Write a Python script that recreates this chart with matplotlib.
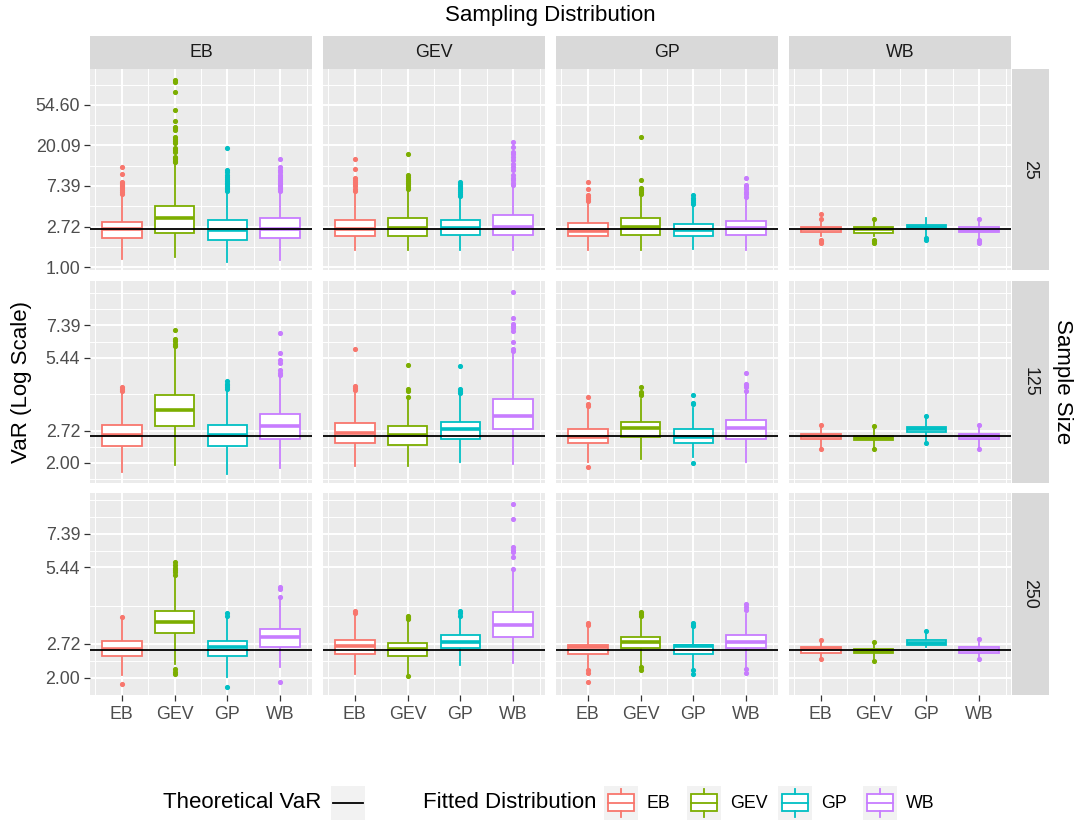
import numpy as np
import matplotlib.pyplot as plt
from matplotlib.patches import Rectangle
from matplotlib.ticker import FixedLocator, NullFormatter

plt.rcParams['font.family'] = ['Liberation Sans', 'DejaVu Sans']

fitted = ['EB', 'GEV', 'GP', 'WB']
sampling = ['EB', 'GEV', 'GP', 'WB']
sample_sizes = ['25', '125', '250']
colors = ['#F8766D', '#7CAE00', '#00BFC4', '#C77CFF']
theoretical_var = 2.58

# box statistics: one inner list per sampling distribution (panel column),
# each with the four fitted distributions EB, GEV, GP, WB
n25_lo = [[1.22, 1.29, 1.14, 1.19], [1.51, 1.51, 1.51, 1.51],
          [1.51, 1.51, 1.56, 1.51], [2.13, 2.13, 2.13, 2.04]]
n25_q1 = [[2.03, 2.30, 1.95, 2.03], [2.13, 2.13, 2.22, 2.22],
          [2.13, 2.22, 2.13, 2.22], [2.37, 2.34, 2.61, 2.37]]
n25_med = [[2.54, 3.33, 2.51, 2.54], [2.55, 2.61, 2.61, 2.72],
           [2.46, 2.72, 2.51, 2.61], [2.55, 2.55, 2.72, 2.51]]
n25_q3 = [[3.06, 4.51, 3.19, 3.33], [3.21, 3.39, 3.21, 3.63],
          [3.00, 3.39, 2.91, 3.13], [2.68, 2.68, 2.79, 2.68]]
n25_hi = [[5.90, 12.9, 6.20, 6.20], [6.19, 6.44, 5.47, 7.28],
          [4.84, 5.79, 4.45, 5.25], [3.20, 3.10, 3.34, 3.20]]
n25_out = [
    [[6.1, 6.4, 6.7, 7.0, 7.3, 7.6, 7.9, 8.2, 9.9, 11.9],
     [13.3, 13.8, 14.3, 14.8, 15.2, 17.2, 18.0, 18.9, 21.3, 22.5, 23.7, 25.0,
      29.4, 31.0, 32.0, 37.0, 48.0, 75.6, 97.0, 100.0],
     [6.5, 6.8, 7.1, 7.4, 7.7, 8.0, 8.4, 8.8, 9.3, 9.8, 10.4, 11.0, 18.7],
     [6.5, 6.8, 7.1, 7.4, 7.7, 8.0, 8.4, 8.8, 9.3, 9.8, 10.4, 11.0, 11.9, 14.4]],
    [[6.5, 6.9, 7.3, 7.7, 8.2, 8.6, 9.0, 11.2, 14.5],
     [6.8, 7.2, 7.6, 8.0, 8.4, 8.8, 9.2, 9.7, 16.3],
     [5.8, 6.1, 6.4, 6.7, 7.0, 7.4, 7.8, 8.2],
     [7.6, 8.0, 8.5, 9.0, 9.7, 11.0, 11.8, 12.7, 14.0, 15.2, 16.2, 17.2, 19.2, 21.7]],
    [[5.1, 5.4, 5.7, 5.9, 6.8, 8.2],
     [6.1, 6.4, 6.7, 7.0, 8.6, 24.6],
     [4.7, 5.0, 5.2, 5.5, 5.9],
     [5.6, 6.0, 6.4, 6.8, 7.2, 7.6, 8.9]],
    [[3.30, 3.72, 1.96, 1.90, 1.83],
     [3.26, 1.96, 1.90, 1.83],
     [2.04, 1.96],
     [3.26, 1.96, 1.90, 1.83]],
]

n125_lo = [[1.83, 1.96, 1.80, 1.91], [1.94, 1.94, 2.02, 1.98],
           [2.02, 2.08, 2.11, 2.02], [2.30, 2.30, 2.43, 2.30]]
n125_q1 = [[2.34, 2.83, 2.34, 2.51], [2.41, 2.37, 2.51, 2.75],
           [2.41, 2.55, 2.41, 2.51], [2.51, 2.49, 2.68, 2.51]]
n125_med = [[2.61, 3.31, 2.61, 2.85], [2.66, 2.61, 2.76, 3.11],
            [2.57, 2.78, 2.57, 2.78], [2.58, 2.54, 2.75, 2.58]]
n125_q3 = [[2.88, 3.80, 2.88, 3.19], [2.92, 2.83, 2.96, 3.68],
           [2.75, 2.96, 2.75, 3.01], [2.64, 2.59, 2.81, 2.64]]
n125_hi = [[3.86, 6.01, 3.98, 4.52], [3.92, 3.74, 3.80, 5.64],
           [3.39, 3.68, 3.36, 3.86], [2.85, 2.83, 3.09, 2.85]]
n125_out = [
    [[3.95, 4.02, 4.11],
     [6.1, 6.2, 6.4, 6.5, 7.09],
     [4.05, 4.12, 4.18, 4.25, 4.34],
     [4.6, 4.7, 4.82, 5.18, 5.3, 5.7, 6.89]],
    [[4.0, 4.08, 4.17, 5.88],
     [3.76, 3.98, 4.02, 5.08],
     [3.9, 3.96, 4.02, 5.02],
     [5.77, 5.92, 6.30, 7.04, 7.2, 7.32, 7.51, 7.92, 10.2]],
    [[3.45, 3.51, 3.73, 1.92],
     [3.80, 3.86, 3.92, 4.11],
     [3.51, 3.54, 3.80, 2.00],
     [3.98, 4.11, 4.20, 4.24, 4.71]],
    [[2.87, 2.28], [2.85, 2.28], [3.12, 2.41], [2.87, 2.28]],
]

n250_lo = [[2.05, 2.27, 2.02, 2.20], [2.08, 2.05, 2.24, 2.29],
           [2.17, 2.24, 2.17, 2.20], [2.39, 2.36, 2.64, 2.40]]
n250_q1 = [[2.43, 3.01, 2.43, 2.64], [2.49, 2.45, 2.63, 2.91],
           [2.49, 2.63, 2.49, 2.63], [2.51, 2.51, 2.70, 2.51]]
n250_med = [[2.60, 3.31, 2.64, 2.89], [2.66, 2.60, 2.76, 3.24],
            [2.64, 2.76, 2.66, 2.76], [2.60, 2.55, 2.75, 2.58]]
n250_q3 = [[2.79, 3.68, 2.79, 3.12], [2.83, 2.75, 2.95, 3.63],
           [2.70, 2.91, 2.70, 2.95], [2.64, 2.60, 2.81, 2.64]]
n250_hi = [[3.40, 4.95, 3.45, 4.10], [3.52, 3.36, 3.40, 5.30],
           [3.17, 3.42, 3.12, 3.58], [2.81, 2.76, 3.03, 2.83]]
n250_out = [
    [[3.48, 1.90],
     [5.1, 5.2, 5.30, 5.4, 5.54, 5.71, 2.17, 2.12, 2.08],
     [3.52, 3.60, 1.85],
     [4.15, 4.49, 4.55, 1.92]],
    [[3.59, 3.66],
     [3.40, 3.44, 3.48, 3.52, 2.03],
     [3.52, 3.59, 3.66],
     [5.35, 5.98, 6.25, 6.4, 6.55, 8.47, 9.70]],
    [[3.22, 3.28, 2.14, 2.09, 1.92],
     [3.52, 3.58, 3.63, 2.20, 2.15],
     [3.20, 3.24, 3.28, 2.14, 2.08],
     [3.70, 3.80, 3.92, 2.17, 2.10]],
    [[2.83, 2.37], [2.78, 2.34], [3.05], [2.85, 2.38]],
]

row_stats = {
    '25': (n25_lo, n25_q1, n25_med, n25_q3, n25_hi, n25_out),
    '125': (n125_lo, n125_q1, n125_med, n125_q3, n125_hi, n125_out),
    '250': (n250_lo, n250_q1, n250_med, n250_q3, n250_hi, n250_out),
}
row_ticks = {
    '25': [1.00, 2.72, 7.39, 20.09, 54.60],
    '125': [2.00, 2.72, 5.44, 7.39],
    '250': [2.00, 2.72, 5.44, 7.39],
}
row_limits = {'25': (0.924, 132.2), '125': (1.659, 11.24), '250': (1.72, 10.65)}

# layout in pixels
W, H = 1078, 821
col_x = [90, 323, 556, 789]
row_y = [69, 281.3, 493.3]
pw, ph = 222, 201.3
axis_grey = '#4D4D4D'
small = 12.8
big = 16


def fig_rect(x, y, w, h):
    return [x / W, 1 - (y + h) / H, w / W, h / H]


def minor_breaks(ticks):
    lg = np.log(ticks)
    mids = (lg[:-1] + lg[1:]) / 2
    step = lg[-1] - mids[-1]
    extra = [lg[0] - (mids[0] - lg[0]), lg[-1] + step, lg[-1] + 2 * step]
    return np.exp(np.sort(np.concatenate([mids, extra])))


fig = plt.figure(figsize=(W / 100, H / 100), dpi=100)

for r, n in enumerate(sample_sizes):
    lo, q1, med, q3, hi, out = row_stats[n]
    for c, s in enumerate(sampling):
        ax = fig.add_axes(fig_rect(col_x[c], row_y[r], pw, ph))
        ax.set_facecolor('#EBEBEB')
        stats = [dict(whislo=lo[c][k], q1=q1[c][k], med=med[c][k], q3=q3[c][k],
                      whishi=hi[c][k], fliers=out[c][k]) for k in range(4)]
        b = ax.bxp(stats, positions=[1, 2, 3, 4], widths=0.75, patch_artist=True,
                   showcaps=False, manage_ticks=False)
        for k, col in enumerate(colors):
            b['boxes'][k].set(facecolor='white', edgecolor=col, linewidth=1.3, zorder=3)
            b['medians'][k].set(color=col, linewidth=2.6, zorder=3.5)
            b['whiskers'][2 * k].set(color=col, linewidth=1.3, zorder=2.5)
            b['whiskers'][2 * k + 1].set(color=col, linewidth=1.3, zorder=2.5)
            b['fliers'][k].set(marker='o', markerfacecolor=col, markeredgecolor=col,
                               markersize=2.7, zorder=2.5)
        ax.axhline(theoretical_var, color='black', linewidth=1.3, zorder=5)

        ax.set_yscale('log')
        ax.set_ylim(*row_limits[n])
        ax.set_xlim(0.4, 4.6)
        ticks = row_ticks[n]
        ax.yaxis.set_major_locator(FixedLocator(ticks))
        ax.yaxis.set_minor_locator(FixedLocator(minor_breaks(ticks)))
        ax.yaxis.set_minor_formatter(NullFormatter())
        ax.set_yticklabels(['%.2f' % t for t in ticks])
        ax.set_xticks([1, 2, 3, 4])
        ax.set_xticks([0.5, 1.5, 2.5, 3.5, 4.5], minor=True)
        ax.set_xticklabels(fitted)
        ax.set_axisbelow(True)
        ax.grid(which='major', color='white', linewidth=1.4)
        ax.grid(which='minor', color='white', linewidth=0.7)
        for sp in ax.spines.values():
            sp.set_visible(False)
        ax.tick_params(which='minor', length=0)
        ax.tick_params(which='major', length=4.5, width=0.9, color='#333333',
                       labelsize=small, labelcolor=axis_grey, pad=2.5)
        ax.tick_params(axis='x', pad=3.5)
        if c > 0:
            ax.tick_params(axis='y', length=0, labelleft=False)
        if r < len(sample_sizes) - 1:
            ax.tick_params(axis='x', length=0, labelbottom=False)

# facet strips
for c, s in enumerate(sampling):
    st = fig.add_axes(fig_rect(col_x[c], 36, pw, 33))
    st.set_facecolor('#D9D9D9')
    st.set_xticks([])
    st.set_yticks([])
    for sp in st.spines.values():
        sp.set_visible(False)
    st.text(0.5, 0.5, s, ha='center', va='center', fontsize=small, color='#1A1A1A',
            transform=st.transAxes)
for r, n in enumerate(sample_sizes):
    st = fig.add_axes(fig_rect(1011.5, row_y[r], 37, ph))
    st.set_facecolor('#D9D9D9')
    st.set_xticks([])
    st.set_yticks([])
    for sp in st.spines.values():
        sp.set_visible(False)
    st.text(0.5, 0.5, n, ha='center', va='center', fontsize=small, color='#1A1A1A',
            rotation=270, transform=st.transAxes)

fig.text(550.5 / W, 1 - 16 / H, 'Sampling Distribution', ha='center', va='center', fontsize=big)
fig.text(1062 / W, 1 - 381.5 / H, 'Sample Size', ha='center', va='center', fontsize=big,
         rotation=270)
fig.text(22 / W, 1 - 381.5 / H, 'VaR (Log Scale)', ha='center', va='center', fontsize=big,
         rotation=90)

# legend drawn in pixel coordinates
lg = fig.add_axes([0, 0, 1, 60 / H])
lg.set_xlim(0, W)
lg.set_ylim(H, H - 60)
lg.axis('off')
ky, ks = 786, 34
lg.text(163, 803, 'Theoretical VaR', ha='left', va='center', fontsize=big)
lg.add_patch(Rectangle((331, ky), ks, ks, facecolor='#F2F2F2', edgecolor='none'))
lg.plot([333, 363], [ky + ks / 2, ky + ks / 2], color='black', linewidth=1.3)
lg.text(423, 803, 'Fitted Distribution', ha='left', va='center', fontsize=big)
key_x = [604, 687, 778, 863]
for k, name in enumerate(fitted):
    x0 = key_x[k]
    col = colors[k]
    lg.add_patch(Rectangle((x0, ky), ks, ks, facecolor='#F2F2F2', edgecolor='none'))
    lg.add_patch(Rectangle((x0 + 0.125 * ks, ky + 0.25 * ks), 0.75 * ks, 0.5 * ks,
                           facecolor='white', edgecolor=col, linewidth=1.3))
    lg.plot([x0 + 0.125 * ks, x0 + 0.875 * ks], [ky + 0.5 * ks] * 2, color=col, linewidth=1.3)
    lg.plot([x0 + 0.5 * ks] * 2, [ky + 0.1 * ks, ky + 0.25 * ks], color=col, linewidth=1.3)
    lg.plot([x0 + 0.5 * ks] * 2, [ky + 0.75 * ks, ky + 0.9 * ks], color=col, linewidth=1.3)
    lg.text(x0 + ks + 9, 803, name, ha='left', va='center', fontsize=small)

fig.savefig('out.png', dpi=100, facecolor='white')
